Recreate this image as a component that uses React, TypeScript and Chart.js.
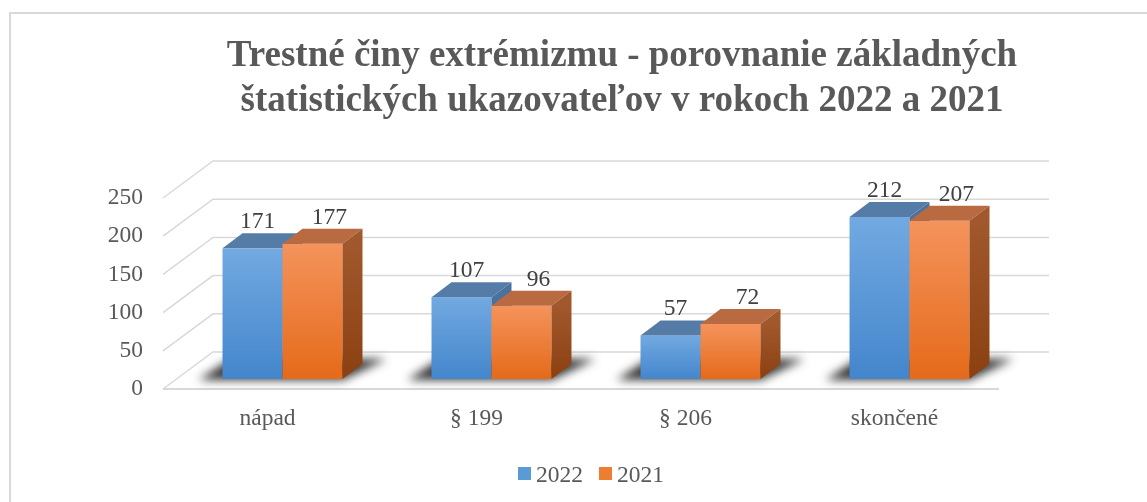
import React, { useEffect, useRef } from "react";
import { Chart, registerables } from "chart.js";

Chart.register(...registerables);

// ---- data ----
const categories = ["nápad", "§ 199", "§ 206", "skončené"];
const seriesLabels = ["2022", "2021"];
const values2022 = [171, 107, 57, 212];
const values2021 = [177, 96, 72, 207];
const yTickMin = 0;
const yTickMax = 250;
const yTickStep = 50;
const titleLines = [
  "Trestné činy extrémizmu - porovnanie základných",
  "štatistických ukazovateľov v rokoch 2022 a 2021",
];

// ---- style ----
const SERIF = '"Liberation Serif", "Times New Roman", serif';
const TEXT = "#595959";
const LABEL = "#404040";
const GRID = "#d9d9d9";
const FS = 23.5;
const FLOOR_DX = 50;
const FLOOR_DY = -37;
const BAR_DX = 20;
const BAR_DY = -15;
const BAR_SHIFT_X = 15;
const BAR_SHIFT_Y = -10;

const palettes = [
  {
    legend: "#5b9bd5",
    frontTop: "#72a9e1",
    frontBottom: "#4486cc",
    top: "#557ca7",
    sideTop: "#4b729e",
    sideBottom: "#3f6591",
    labelDx: 5,
  },
  {
    legend: "#ed7d31",
    frontTop: "#f4935c",
    frontBottom: "#e56a1a",
    top: "#b96a40",
    sideTop: "#a0582c",
    sideBottom: "#8c4011",
    labelDx: 17,
  },
];

const threeDPlugin = {
  id: "threeD",
  beforeDraw(chart: any) {
    const { ctx, width, height } = chart;
    ctx.save();
    ctx.fillStyle = "#ffffff";
    ctx.fillRect(0, 0, width, height);
    ctx.strokeStyle = GRID;
    ctx.lineWidth = 2;
    ctx.beginPath();
    ctx.moveTo(10, height);
    ctx.lineTo(10, 13);
    ctx.lineTo(width, 13);
    ctx.stroke();
    ctx.restore();
  },
  beforeDatasetsDraw(chart: any) {
    const { ctx, chartArea } = chart;
    const { left, right } = chartArea;
    const y = chart.scales.y;
    ctx.save();
    // back wall + side wall gridlines
    ctx.strokeStyle = GRID;
    ctx.lineWidth = 1.5;
    y.ticks.forEach((t: any) => {
      const py = y.getPixelForValue(t.value);
      ctx.beginPath();
      ctx.moveTo(left, py);
      ctx.lineTo(left + FLOOR_DX, py + FLOOR_DY);
      ctx.lineTo(right + FLOOR_DX, py + FLOOR_DY);
      ctx.stroke();
    });
    // floor front edge
    const y0 = y.getPixelForValue(0);
    ctx.lineWidth = 2;
    ctx.beginPath();
    ctx.moveTo(left, y0);
    ctx.lineTo(right, y0);
    ctx.stroke();

    const nDs = chart.data.datasets.length;
    // shadows
    categories.forEach((_, i) => {
      let L = Infinity;
      let R = -Infinity;
      let B = 0;
      for (let d = 0; d < nDs; d++) {
        const el = chart.getDatasetMeta(d).data[i];
        const p = el.getProps(["x", "width", "base"], true);
        L = Math.min(L, p.x - p.width / 2);
        R = Math.max(R, p.x + p.width / 2);
        B = p.base;
      }
      L += BAR_SHIFT_X;
      R += BAR_SHIFT_X;
      B += BAR_SHIFT_Y;
      ctx.save();
      ctx.filter = "blur(5px)";
      ctx.fillStyle = "rgba(20,20,20,0.85)";
      ctx.beginPath();
      ctx.moveTo(L - 24, B + 1);
      ctx.lineTo(R, B + 1);
      ctx.lineTo(R + BAR_DX + 24, B + BAR_DY - 5);
      ctx.lineTo(L + 8, B + BAR_DY - 5);
      ctx.closePath();
      ctx.fill();
      ctx.restore();
    });

    // boxes
    categories.forEach((_, i) => {
      for (let d = 0; d < nDs; d++) {
        const pal = palettes[d];
        const el = chart.getDatasetMeta(d).data[i];
        const p = el.getProps(["x", "y", "width", "base"], true);
        const x1 = p.x - p.width / 2 + BAR_SHIFT_X;
        const x2 = p.x + p.width / 2 + BAR_SHIFT_X;
        const top = p.y + BAR_SHIFT_Y;
        const bot = p.base + BAR_SHIFT_Y;
        // front
        const g = ctx.createLinearGradient(0, top, 0, bot);
        g.addColorStop(0, pal.frontTop);
        g.addColorStop(1, pal.frontBottom);
        ctx.fillStyle = g;
        ctx.fillRect(x1, top, x2 - x1, bot - top);
        // top
        ctx.fillStyle = pal.top;
        ctx.beginPath();
        ctx.moveTo(x1, top);
        ctx.lineTo(x1 + BAR_DX, top + BAR_DY);
        ctx.lineTo(x2 + BAR_DX, top + BAR_DY);
        ctx.lineTo(x2, top);
        ctx.closePath();
        ctx.fill();
        // side
        const gs = ctx.createLinearGradient(0, top, 0, bot);
        gs.addColorStop(0, pal.sideTop);
        gs.addColorStop(1, pal.sideBottom);
        ctx.fillStyle = gs;
        ctx.beginPath();
        ctx.moveTo(x2, top);
        ctx.lineTo(x2 + BAR_DX, top + BAR_DY);
        ctx.lineTo(x2 + BAR_DX, bot + BAR_DY);
        ctx.lineTo(x2, bot);
        ctx.closePath();
        ctx.fill();
      }
    });

    // data labels
    ctx.font = `${FS}px ${SERIF}`;
    ctx.fillStyle = LABEL;
    ctx.textAlign = "center";
    ctx.textBaseline = "alphabetic";
    categories.forEach((_, i) => {
      for (let d = 0; d < nDs; d++) {
        const el = chart.getDatasetMeta(d).data[i];
        const p = el.getProps(["x", "y"], true);
        const v = chart.data.datasets[d].data[i];
        ctx.fillText(String(v), p.x + BAR_SHIFT_X + palettes[d].labelDx, p.y + BAR_SHIFT_Y - 20);
      }
    });
    ctx.restore();
    return false;
  },
  afterDraw(chart: any) {
    const { ctx } = chart;
    ctx.save();
    // title
    ctx.font = `bold 37px ${SERIF}`;
    ctx.fillStyle = TEXT;
    ctx.textAlign = "center";
    ctx.textBaseline = "alphabetic";
    ctx.fillText(titleLines[0], 622, 66);
    ctx.fillText(titleLines[1], 622, 111);

    // legend
    ctx.font = `${FS}px ${SERIF}`;
    const box = 13;
    const gapBox = 5;
    const gapItem = 16;
    const items = chart.data.datasets.map((ds: any, d: number) => ({
      text: ds.label,
      color: palettes[d].legend,
      w: ctx.measureText(ds.label).width,
    }));
    const total =
      items.reduce((s: number, it: any) => s + box + gapBox + it.w, 0) + gapItem * (items.length - 1);
    let x = 591 - total / 2;
    ctx.textAlign = "left";
    items.forEach((it: any) => {
      ctx.fillStyle = it.color;
      ctx.fillRect(x, 467, box, box);
      x += box + gapBox;
      ctx.fillStyle = TEXT;
      ctx.fillText(it.text, x, 482);
      x += it.w + gapItem;
    });
    ctx.restore();
  },
};

export default function App() {
  const ref = useRef<HTMLCanvasElement | null>(null);
  useEffect(() => {
    if (!ref.current) return;
    const chart = new Chart(ref.current, {
      type: "bar",
      data: {
        labels: categories,
        datasets: [
          {
            label: seriesLabels[0],
            data: values2022,
            backgroundColor: palettes[0].legend,
            categoryPercentage: 0.574,
            barPercentage: 1,
          },
          {
            label: seriesLabels[1],
            data: values2021,
            backgroundColor: palettes[1].legend,
            categoryPercentage: 0.574,
            barPercentage: 1,
          },
        ],
      },
      options: {
        responsive: false,
        animation: false,
        layout: { padding: { left: 0, right: 148, top: 198, bottom: 63 } },
        plugins: {
          legend: { display: false },
          title: { display: false },
          tooltip: { enabled: false },
        },
        scales: {
          x: {
            grid: { display: false, drawTicks: false },
            border: { display: false },
            ticks: { font: { family: SERIF, size: FS }, color: TEXT, padding: 16 },
            afterFit: (s: any) => {
              s.height = 50;
            },
          },
          y: {
            min: yTickMin,
            max: yTickMax,
            grid: { display: false, drawTicks: false },
            border: { display: false },
            ticks: { stepSize: yTickStep, font: { family: SERIF, size: FS }, color: TEXT, padding: 20 },
            afterFit: (s: any) => {
              s.width = 163;
            },
          },
        },
      },
      plugins: [threeDPlugin],
    });
    return () => chart.destroy();
  }, []);
  return (
    <div style={{ position: "fixed", left: 0, top: 0, width: 1147, height: 502, background: "#fff" }}>
      <canvas ref={ref} width={1147} height={502} style={{ width: 1147, height: 502, display: "block" }} />
    </div>
  );
}
